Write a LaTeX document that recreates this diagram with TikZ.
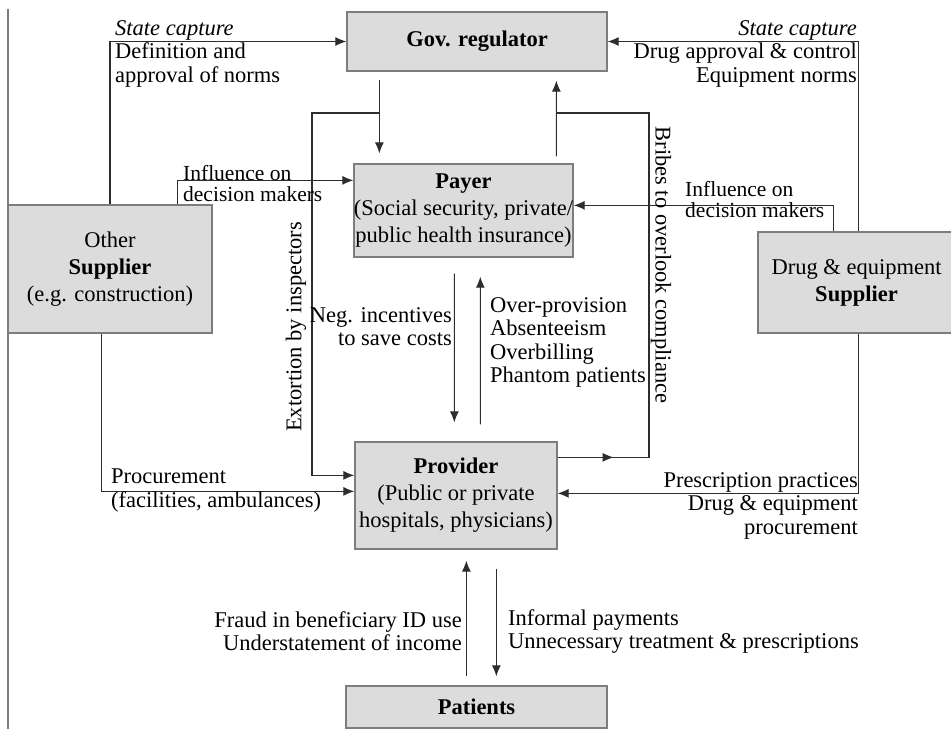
\documentclass[tikz,border=0pt]{standalone}
\usepackage{fontspec}
\setmainfont{Liberation Serif}
\usetikzlibrary{arrows.meta,calc,decorations.markings}
\definecolor{boxgray}{RGB}{220,220,220}
\definecolor{edgegray}{RGB}{125,125,125}
\definecolor{linegray}{RGB}{45,45,45}
\tikzset{
  actor/.style={draw=edgegray, line width=1.3pt, fill=boxgray, inner sep=0pt, align=center, font=\fontsize{22.5}{27}\selectfont},
  flow/.style={draw=linegray, line width=1.1pt, -{Latex[length=11pt,width=9pt]}},
  link/.style={draw=linegray, line width=1.1pt},
  midarrow/.style={postaction={decorate}, decoration={markings, mark=at position 56pt with {\arrow{Latex[length=11pt,width=9pt]}}}},
  note/.style={inner sep=0pt, font=\fontsize{22.5}{23.5}\selectfont},
  tightnote/.style={inner sep=0pt, font=\fontsize{21.5}{21}\selectfont},
}
\begin{document}
\begin{tikzpicture}[x=1pt,y=-1pt]
		%%Frame
		\useasboundingbox (0,0) rectangle (951,729);
		\draw[edgegray, line width=1.3pt] (8,9) -- (8,729);
		%%Actors
		\node[actor, minimum width=260pt, minimum height=59pt] (gov) at (477,41.5) {\textbf{Gov. regulator}};
		\node[actor, minimum width=219pt, minimum height=93pt] (payer) at (463.5,210.5) {\textbf{Payer}\\(Social security, private/\\public health insurance)};
		\node[actor, minimum width=204pt, minimum height=128pt] (other) at (110,269) {Other\\\textbf{Supplier}\\(e.g. construction)};
		\node[actor, minimum width=197pt, minimum height=101pt] (drug) at (856.5,282.5) {Drug \& equipment\\\textbf{Supplier}};
		\node[actor, minimum width=202pt, minimum height=107pt] (provider) at (456,495.5) {\textbf{Provider}\\(Public or private\\hospitals, physicians)};
		\node[actor, minimum width=261pt, minimum height=42pt] (patients) at (476.5,707) {\textbf{Patients}};
		
		%%Junctions
		\coordinate (govout) at ($(gov.south west)+(33,8)$);
		\coordinate (govin) at ($(gov.south west)+(210,9)$);
		\coordinate (payout) at ($(payer.north west)+(203,-7)$);
		\coordinate (extl) at (312,113);
		\coordinate (brr) at (649,113);
		
		%%Flows
		\draw[flow] (other.north) |- (gov.west);
		\draw[flow] ($(other.north west)+(170,0)$) |- ($(payer.north west)+(0,17)$);
		\draw[flow] (govout) -- ($(govout |- payer.north)+(0,-10)$);
		\draw[flow] (govout |- extl) -- (extl) |- ($(provider.north west)+(0,34)$);
		\draw[flow] (payout) -- (govin);
		\draw[link, midarrow] ($(provider.north east)+(0,16)$) -| (brr) -- (brr -| govin);
		\draw[flow] ($(drug.north west)+(101,0)$) |- (gov.east);
		\draw[flow] ($(drug.north west)+(76,0)$) |- ($(payer.north east)+(0,42)$);
		\draw[flow] ($(drug.south west)+(101,0)$) |- ($(provider.north east)+(0,52)$);
		\draw[flow] ($(other.south west)+(94,0)$) |- ($(provider.north west)+(0,50)$);
		\draw[flow] ($(payer.south west)+(101,16)$) -- ($(provider.north west)+(100,-19)$);
		\draw[flow] ($(provider.north west)+(126,-17)$) -- ($(payer.south west)+(127,19)$);
		\draw[flow] ($(patients.north west)+(121,-9)$) -- ($(provider.south west)+(112,11)$);
		\draw[flow] ($(provider.south west)+(142,19)$) -- ($(patients.north west)+(151,-9)$);
		
		%%Label
		\node[note, anchor=north west, align=left] (capl) at (115,20) {\textit{State capture}\\Definition and\\approval of norms};
		\node[note, anchor=north east, align=right] (capr) at (857,20) {\textit{State capture}\\Drug approval \& control\\Equipment norms};
		\node[tightnote, anchor=north west, align=left] (inflL) at (183,165) {Influence on\\decision makers};
		\node[tightnote, anchor=north west, align=left] (inflR) at (685,181) {Influence on\\decision makers};
		\node[note, rotate=90] (extort) at (296,327) {Extortion by inspectors};
		\node[note, rotate=-90] (bribes) at (661,265) {Bribes to overlook compliance};
		\node[note, anchor=north east, align=right] (neginc) at (452,307) {Neg. incentives\\to save costs};
		\node[note, anchor=north west, align=left] (overprov) at (490,297) {Over-provision\\Absenteeism\\Overbilling\\Phantom patients};
		\node[note, anchor=north west, align=left] (procure) at (111,469) {Procurement\\(facilities, ambulances)};
		\node[note, anchor=north east, align=right] (prescr) at (858,472) {Prescription practices\\Drug \& equipment\\procurement};
		\node[note, anchor=north east, align=right] (fraud) at (462,611) {Fraud in beneficiary ID use\\Understatement of income};
		\node[note, anchor=north west, align=left] (informal) at (508,609) {Informal payments\\Unnecessary treatment \& prescriptions};
\end{tikzpicture}
\end{document}
